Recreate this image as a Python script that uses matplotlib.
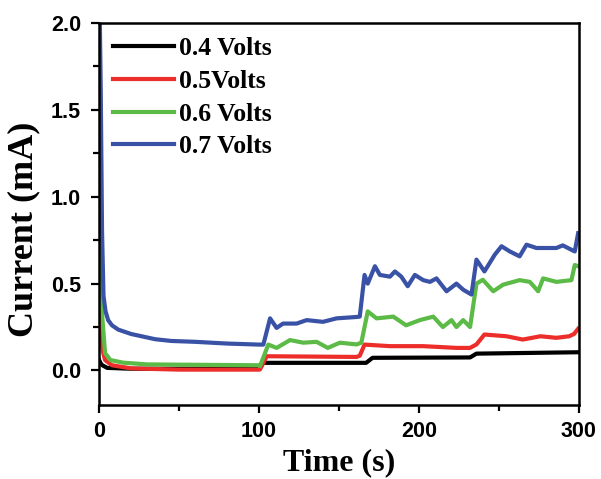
import matplotlib
matplotlib.use('Agg')
import matplotlib.pyplot as plt
from matplotlib.ticker import MultipleLocator

t_04 = [0, 1, 2, 5, 20, 100, 101.7, 102.5, 167, 171, 232, 236, 300]
i_04 = [0.06, 0.04, 0.03, 0.015, 0.01, 0.01, 0.03, 0.044, 0.044, 0.073, 0.075, 0.097, 0.105]

t_05 = [0, 1, 2, 3.7, 8, 20, 50, 100, 100.6, 104.8, 161, 163, 166, 181.9, 202.7, 223.5,
        232, 236, 241, 254.8, 265, 276, 286, 294, 297, 299.6]
i_05 = [0.37, 0.2, 0.12, 0.06, 0.03, 0.012, 0.005, 0.005, 0.006, 0.082, 0.078, 0.085, 0.149,
        0.14, 0.14, 0.13, 0.13, 0.15, 0.207, 0.197, 0.178, 0.197, 0.188, 0.197, 0.21, 0.24]

t_06 = [0, 1, 2, 3.7, 7, 15, 30, 100, 100.6, 105.8, 111, 119.4, 127.7, 136, 143, 150.6,
        161, 164, 168, 173.5, 184, 192, 200.6, 209, 215, 220.4, 223.5, 227.7, 232, 236,
        240, 246.5, 252.7, 263, 269.4, 274.6, 277.7, 286, 295.4, 297.5, 299.6]
i_06 = [1.0, 0.6, 0.3, 0.10, 0.06, 0.045, 0.035, 0.03, 0.025, 0.149, 0.13, 0.175, 0.16, 0.165,
        0.13, 0.16, 0.15, 0.16, 0.34, 0.30, 0.31, 0.26, 0.29, 0.31, 0.25, 0.29, 0.25, 0.29,
        0.25, 0.50, 0.522, 0.456, 0.494, 0.52, 0.51, 0.456, 0.53, 0.51, 0.52, 0.607, 0.60]

t_07 = [0, 1, 1.8, 2.7, 4, 5.6, 8, 12, 20, 35, 45, 60, 80, 100, 102.7, 106.9, 111, 115,
        123.5, 129.8, 140, 148.5, 161, 163, 166, 168, 172.5, 175.6, 181.9, 185, 189, 193,
        197.5, 202.7, 206.9, 211, 217.3, 223.5, 227.7, 232.9, 236, 241, 247.5, 251.7,
        256.9, 263, 267.3, 273.5, 286, 290, 297.5, 299.6]
i_07 = [2.3, 1.6, 0.8, 0.43, 0.34, 0.29, 0.26, 0.235, 0.21, 0.18, 0.17, 0.165, 0.155, 0.149,
        0.149, 0.30, 0.245, 0.27, 0.27, 0.29, 0.28, 0.30, 0.308, 0.31, 0.55, 0.50, 0.60,
        0.55, 0.54, 0.57, 0.54, 0.485, 0.55, 0.52, 0.51, 0.53, 0.456, 0.50, 0.465, 0.437,
        0.638, 0.57, 0.667, 0.715, 0.685, 0.657, 0.724, 0.705, 0.705, 0.72, 0.685, 0.79]

labels = ['0.4 Volts', '0.5Volts', '0.6 Volts', '0.7 Volts']
colors = ['#000000', '#ec2d2a', '#5cba47', '#3a52a6']

fig = plt.figure(figsize=(6.01, 4.79), dpi=100)
ax = fig.add_axes([0.165, 0.154, 0.798, 0.798])

series = [(t_04, i_04), (t_05, i_05), (t_06, i_06), (t_07, i_07)]
for (t, i), lab, c in zip(series, labels, colors):
    ax.plot(t, i, color=c, lw=3, label=lab, solid_joinstyle='round')

ax.set_xlim(0, 300)
ax.set_ylim(-0.2, 2.0)
ax.xaxis.set_major_locator(MultipleLocator(100))
ax.xaxis.set_minor_locator(MultipleLocator(50))
ax.yaxis.set_major_locator(MultipleLocator(0.5))
ax.yaxis.set_minor_locator(MultipleLocator(0.25))
ax.tick_params(which='major', direction='out', length=6, width=1.6, pad=5)
ax.tick_params(axis='y', which='major', pad=7)
ax.tick_params(which='minor', direction='out', length=4, width=1.6)
for s in ax.spines.values():
    s.set_linewidth(1.8)

for lab in ax.get_xticklabels() + ax.get_yticklabels():
    lab.set_fontfamily('Liberation Sans')
    lab.set_fontweight('bold')
    lab.set_fontsize(15.5)

ax.set_xlabel('Time (s)', family='Liberation Serif', weight='bold', fontsize=23)
ax.set_ylabel('Current (mA)', family='Liberation Serif', weight='bold', fontsize=26)
ax.xaxis.set_label_coords(0.5, -0.112)
ax.yaxis.set_label_coords(-0.122, 0.46)

ax.legend(loc='upper left', frameon=False, handlelength=2.35, handletextpad=0.2,
          labelspacing=0.38, borderaxespad=0.15, bbox_to_anchor=(0.0, 1.0),
          prop={'family': 'Liberation Serif', 'weight': 'bold', 'size': 18.5})

fig.savefig('out.png', dpi=100)
